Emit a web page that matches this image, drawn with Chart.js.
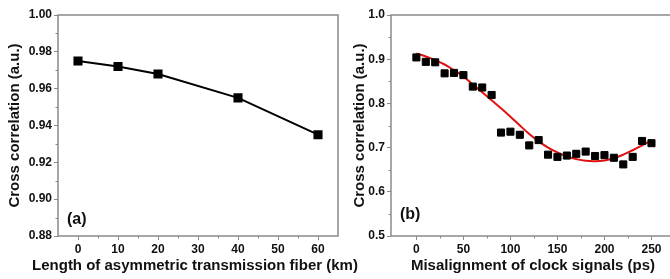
<!DOCTYPE html>
<html>
<head>
<meta charset="utf-8">
<script src="https://cdn.jsdelivr.net/npm/chart.js@4.4.1/dist/chart.umd.min.js"></script>
<style>
  html, body { margin: 0; padding: 0; background: #fff; overflow: hidden; width: 670px; height: 279px; }
  canvas { position: absolute; top: 0; }
  #chartA { left: 0; }
  #chartB { left: 345px; }
</style>
</head>
<body>
<canvas id="chartA" width="380" height="279"></canvas>
<canvas id="chartB" width="340" height="279"></canvas>
<script>
// panel (a)
const fiberLength = [0, 10, 20, 40, 60];
const corrFiber = [0.975, 0.972, 0.968, 0.955, 0.935];
const fiberTicks = [0, 10, 20, 30, 40, 50, 60];
const fiberMinor = [5, 15, 25, 35, 45, 55];
const corrTicksA = [0.88, 0.90, 0.92, 0.94, 0.96, 0.98, 1.00];
const corrMinorA = [0.89, 0.91, 0.93, 0.95, 0.97, 0.99];

// panel (b)
const misalign = [0, 10, 20, 30, 40, 50, 60, 70, 80, 90, 100, 110, 120, 130, 140, 150, 160, 170, 180, 190, 200, 210, 220, 230, 240, 250];
const corrMeasured = [0.904, 0.894, 0.893, 0.868, 0.869, 0.864, 0.838, 0.836, 0.819, 0.734, 0.736, 0.729, 0.705, 0.717, 0.684, 0.679, 0.682, 0.686, 0.691, 0.681, 0.683, 0.677, 0.662, 0.679, 0.715, 0.710];
const corrFit = [0.913, 0.906, 0.898, 0.888, 0.875, 0.861, 0.843, 0.825, 0.807, 0.789, 0.770, 0.750, 0.731, 0.714, 0.700, 0.689, 0.680, 0.674, 0.670, 0.669, 0.671, 0.676, 0.684, 0.694, 0.705, 0.716];
const misalignTicks = [0, 50, 100, 150, 200, 250];
const misalignMinor = [25, 75, 125, 175, 225];
const corrTicksB = [0.5, 0.6, 0.7, 0.8, 0.9, 1.0];
const corrMinorB = [0.55, 0.65, 0.75, 0.85, 0.95];

const FONT = '"Liberation Sans", Arial, sans-serif';
const FRAME = '#8a8a8a';

// frame box, minor ticks, panel letter, optional free x title
const framePlugin = {
  id: 'frame',
  afterDraw(chart, args, opts) {
    const { ctx, chartArea: a, scales } = chart;
    ctx.save();
    ctx.strokeStyle = FRAME;
    ctx.lineWidth = 1.5;
    ctx.strokeRect(a.left, a.top, a.right - a.left, a.bottom - a.top);
    ctx.lineWidth = 1;
    ctx.beginPath();
    opts.xMinor.forEach(v => {
      const px = Math.round(scales.x.getPixelForValue(v)) + 0.5;
      ctx.moveTo(px, a.bottom); ctx.lineTo(px, a.bottom + 2.5);
    });
    opts.yMinor.forEach(v => {
      const py = Math.round(scales.y.getPixelForValue(v)) + 0.5;
      ctx.moveTo(a.left, py); ctx.lineTo(a.left - 2.5, py);
    });
    ctx.stroke();
    ctx.fillStyle = '#111';
    ctx.font = 'bold 16px ' + FONT;
    ctx.textBaseline = 'middle';
    ctx.textAlign = 'left';
    ctx.fillText(opts.letter, a.left + 9, opts.letterY);
    if (opts.xTitle) {
      ctx.font = 'bold 15px ' + FONT;
      ctx.textAlign = 'center';
      ctx.fillText(opts.xTitle, opts.xTitleX, 266);
    }
    ctx.restore();
  }
};

function axisX(ticks, min, max, title) {
  return {
    type: 'linear', min: min, max: max,
    afterBuildTicks: s => { s.ticks = ticks.map(v => ({ value: v })); },
    afterFit: s => { s.height = 43; },
    border: { display: false },
    grid: { drawOnChartArea: false, drawTicks: true, tickLength: 4, tickColor: FRAME, tickWidth: 1 },
    ticks: { color: '#111', font: { family: FONT, size: 12, weight: 'bold' }, padding: 2, maxRotation: 0 },
    title: title ? { display: true, text: title, color: '#111', font: { family: FONT, size: 15, weight: 'bold' }, padding: { top: 2, bottom: 4 } } : { display: false }
  };
}

function axisY(ticks, min, max, digits, width) {
  return {
    type: 'linear', min: min, max: max,
    afterBuildTicks: s => { s.ticks = ticks.map(v => ({ value: v })); },
    afterFit: s => { s.width = width; },
    border: { display: false },
    grid: { drawOnChartArea: false, drawTicks: true, tickLength: 4, tickColor: FRAME, tickWidth: 1 },
    ticks: { color: '#111', font: { family: FONT, size: 12, weight: 'bold' }, padding: 2, callback: v => v.toFixed(digits) },
    title: { display: true, text: 'Cross correlation (a.u.)', color: '#111', font: { family: FONT, size: 15, weight: 'bold' }, padding: { top: 6, bottom: 0 } }
  };
}

new Chart(document.getElementById('chartA'), {
  type: 'line',
  data: {
    datasets: [{
      data: fiberLength.map((x, i) => ({ x: x, y: corrFiber[i] })),
      borderColor: '#000', backgroundColor: '#000', borderWidth: 2,
      pointStyle: 'rect', pointRadius: 5, tension: 0
    }]
  },
  options: {
    responsive: false, animation: false,
    layout: { padding: { left: 0, right: 42, top: 15, bottom: 0 } },
    plugins: {
      legend: { display: false }, tooltip: { enabled: false },
      frame: { xMinor: fiberMinor, yMinor: corrMinorA, letter: '(a)', letterY: 220,
               xTitle: 'Length of asymmetric transmission fiber (km)', xTitleX: 195 }
    },
    scales: {
      x: axisX(fiberTicks, -5, 65, null),
      y: axisY(corrTicksA, 0.88, 1.00, 2, 58)
    }
  },
  plugins: [framePlugin]
});

new Chart(document.getElementById('chartB'), {
  type: 'line',
  data: {
    datasets: [{
      data: misalign.map((x, i) => ({ x: x, y: corrMeasured[i] })),
      showLine: false, borderColor: '#000', backgroundColor: '#000',
      pointStyle: 'rect', pointRadius: 5
    }, {
      data: misalign.map((x, i) => ({ x: x, y: corrFit[i] })),
      borderColor: '#e01010', borderWidth: 2, pointRadius: 0, tension: 0.4
    }]
  },
  options: {
    responsive: false, animation: false,
    layout: { padding: { left: 0, right: 10, top: 15, bottom: 0 } },
    plugins: {
      legend: { display: false }, tooltip: { enabled: false },
      frame: { xMinor: misalignMinor, yMinor: corrMinorB, letter: '(b)', letterY: 215 }
    },
    scales: {
      x: axisX(misalignTicks, -27, 275, 'Misalignment of clock signals (ps)'),
      y: axisY(corrTicksB, 0.5, 1.0, 1, 46)
    }
  },
  plugins: [framePlugin]
});
</script>
</body>
</html>
